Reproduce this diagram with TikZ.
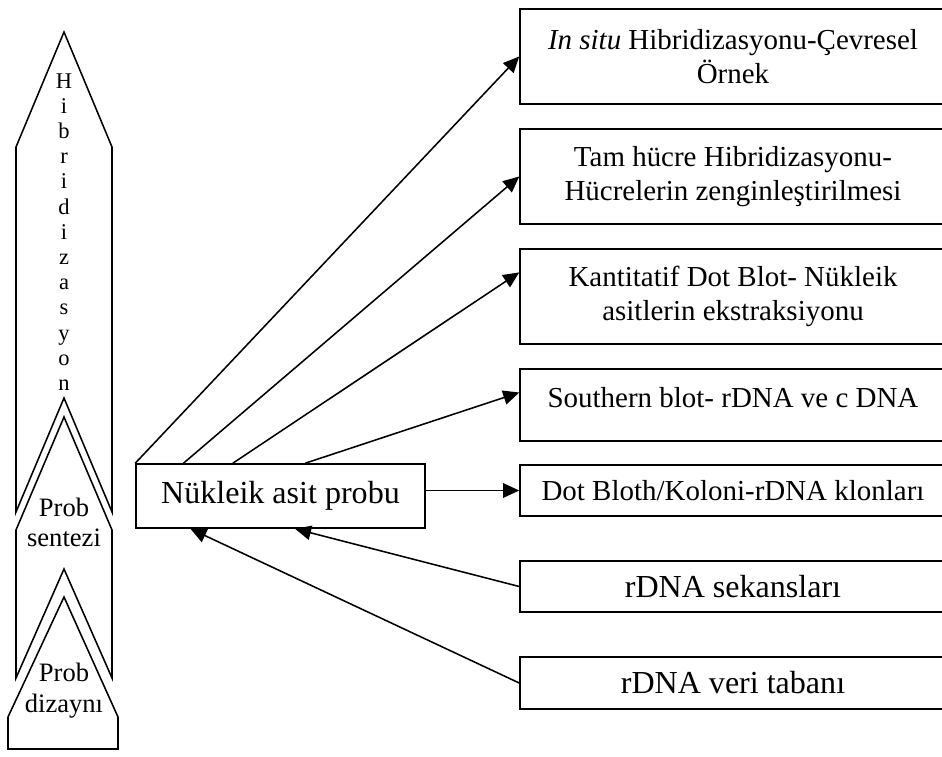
\documentclass[tikz,border=0pt]{standalone}
\usepackage{fontspec}
\setmainfont{Liberation Serif}
\usetikzlibrary{arrows.meta}
\usetikzlibrary{calc}

\begin{document}
\begin{tikzpicture}[line width=1.1pt, >={Triangle[length=4mm,width=3.6mm]},
    kutu/.style={draw, minimum width=10.65cm, align=center, font=\fontsize{20.6}{24.2}\selectfont},
    buyuk/.style={font=\fontsize{22.8}{26}\selectfont},
    solyazi/.style={align=center, font=\fontsize{18.9}{22}\selectfont}]
    \useasboundingbox (0,0) rectangle (23.55,-18.9);
    % Sol oklar
    \draw (1.6,-0.8) -- (2.8,-3.675) -- (2.8,-12.8) -- (1.6,-9.95) -- (0.4,-12.8) -- (0.4,-3.675) -- cycle;
    \draw (1.6,-10.425) -- (2.8,-13.25) -- (2.8,-16.95) -- (1.6,-14.225) -- (0.4,-16.95) -- (0.4,-13.25) -- cycle;
    \draw (1.6,-14.925) -- (2.95,-17.925) -- (2.95,-18.725) -- (0.2,-18.725) -- (0.2,-17.925) -- cycle;
    \foreach \l [count=\i] in {H,i,b,r,i,d,i,z,a,s,y,o,n} {
        \node[anchor=base, font=\fontsize{16}{19}\selectfont] (h\i) at (1.6,{-2.2-0.63*(\i-1)}) {\l};
    }
    \node[solyazi] (sentez) at (1.6,-13.06) {Prob\\sentezi};
    \node[solyazi] (dizayn) at (1.6,-17.2575) {Prob\\dizaynı};
    % Kutular
    \node[draw, buyuk, minimum width=7.225cm, minimum height=1.6cm] (nap) at (7.0125,-12.4) {Nükleik asit probu};
    \node[kutu, minimum height=2.375cm] (b1) at (18.325,-1.4125) {\textit{In situ} Hibridizasyonu-Çevresel\\Örnek};
    \node[kutu, minimum height=2.375cm] (b2) at (18.325,-4.4125) {Tam hücre Hibridizasyonu-\\Hücrelerin zenginleştirilmesi};
    \node[kutu, minimum height=2.375cm] (b3) at (18.325,-7.4125) {Kantitatif Dot Blot- Nükleik\\asitlerin ekstraksiyonu};
    \node[kutu, minimum height=1.8cm, text depth=0.39cm] (b4) at (18.325,-10.125) {Southern blot- rDNA ve c DNA};
    \node[kutu, minimum height=1.275cm] (b5) at (18.325,-12.2625) {Dot Bloth/Koloni-rDNA klonları};
    \node[kutu, buyuk, minimum height=1.275cm] (b6) at (18.325,-14.6625) {rDNA sekansları};
    \node[kutu, buyuk, minimum height=1.3cm] (b7) at (18.325,-17.075) {rDNA veri tabanı};
    % Baglantilar
    \draw[->] (nap.north west) -- (b1.west);
    \draw[->] ($(nap.north west)!0.166!(nap.north east)$) -- (b2.west);
    \draw[->] ($(nap.north west)!0.336!(nap.north east)$) -- ($(b3.north west)!0.25!(b3.south west)$);
    \draw[->] ($(nap.north west)!0.585!(nap.north east)$) -- ($(b4.north west)!0.33!(b4.south west)$);
    \draw[->] (nap.east |- b5.west) -- (b5.west);
    \draw[->] (b6.west) -- ($(nap.south west)!0.55!(nap.south east)$);
    \draw[->] (b7.west) -- ($(nap.south west)!0.19!(nap.south east)$);
\end{tikzpicture}
\end{document}
